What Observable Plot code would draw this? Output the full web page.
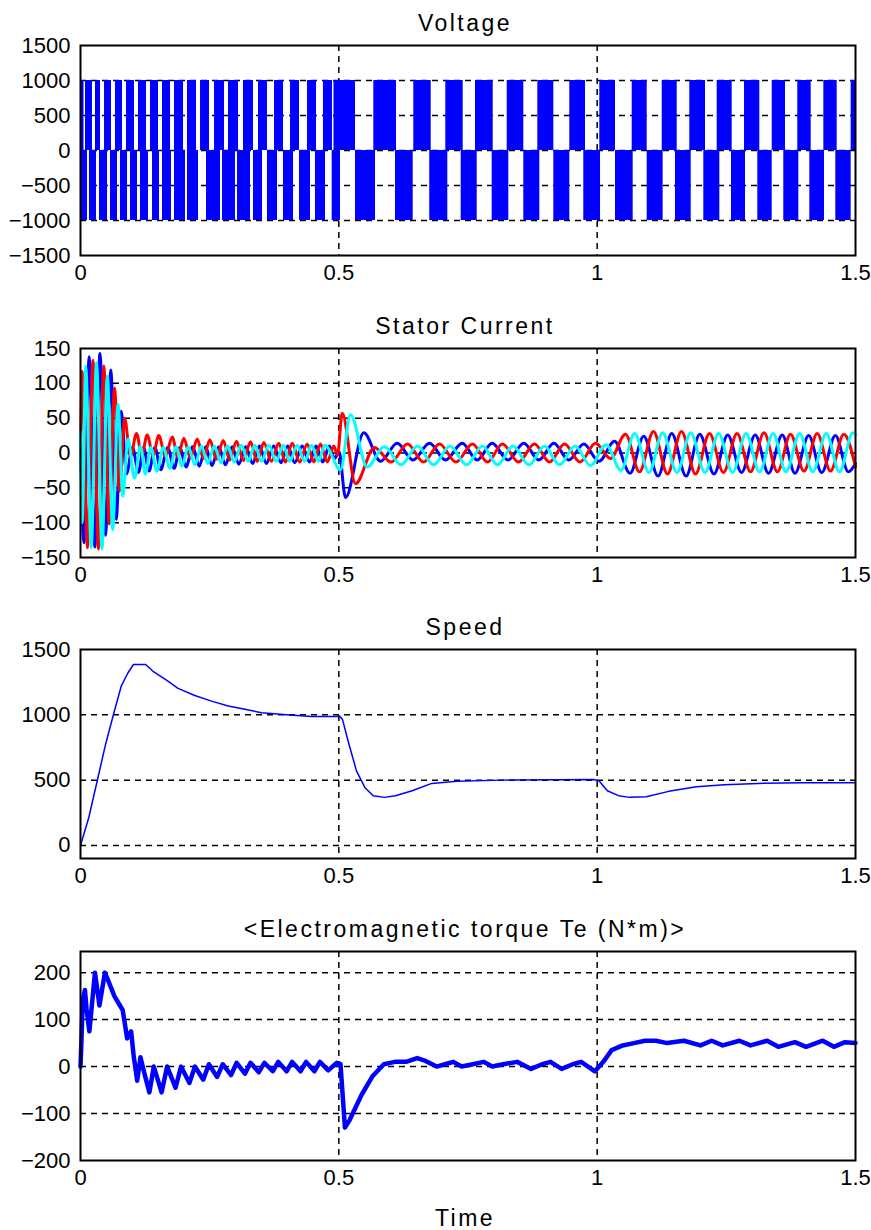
<!DOCTYPE html>
<html><head><meta charset="utf-8">
<script src="https://cdn.jsdelivr.net/npm/d3@7"></script>
<script src="https://cdn.jsdelivr.net/npm/@observablehq/plot@0.6"></script>
<style>
html,body{margin:0;padding:0;background:#fff;}
#chart{width:871px;}
#chart svg{display:block;}
</style></head><body><div id="chart"></div>
<script>
// ---------- shared axis data ----------
const xTicks = [0, 0.5, 1, 1.5];
const xGrid = [0.5, 1];
const titles = ["Voltage", "Stator Current", "Speed", "<Electromagnetic torque Te (N*m)>"];
const xAxisTitle = "Time";

// ---------- Voltage (pulse edges, s) ----------
const voltLevel = 1000;
const posStart = [0, 0.0097, 0.029, 0.0465, 0.0677, 0.089, 0.1123, 0.1355, 0.1587, 0.1819, 0.2071, 0.2323, 0.2594, 0.2865, 0.3155, 0.3445, 0.3755, 0.4065, 0.4394, 0.4703, 0.4906, 0.5677, 0.6451, 0.707, 0.7645, 0.8259, 0.8851, 0.947, 1.0051, 1.0678, 1.1259, 1.1793, 1.2323, 1.2852, 1.3388, 1.3883, 1.4387, 1.4916];
const posEnd   = [0.0068, 0.0232, 0.0387, 0.06, 0.0813, 0.1045, 0.1277, 0.151, 0.1742, 0.1994, 0.2245, 0.2497, 0.2787, 0.3058, 0.3348, 0.3619, 0.3929, 0.4239, 0.4568, 0.4877, 0.5323, 0.6116, 0.6788, 0.7407, 0.7988, 0.858, 0.9161, 0.9774, 1.0355, 1.0968, 1.1549, 1.2097, 1.2613, 1.3148, 1.3645, 1.4142, 1.4645, 1.5];
const negStart = [0, 0.0174, 0.0368, 0.0581, 0.0774, 0.0968, 0.1161, 0.1394, 0.1587, 0.1819, 0.2071, 0.2439, 0.2748, 0.3039, 0.3348, 0.3619, 0.3929, 0.4239, 0.4548, 0.4871, 0.5323, 0.6097, 0.676, 0.7368, 0.7968, 0.858, 0.9161, 0.9741, 1.0355, 1.0968, 1.1516, 1.2064, 1.26, 1.3109, 1.3612, 1.4116, 1.4619];
const negEnd   = [0.0135, 0.031, 0.0523, 0.0716, 0.091, 0.1103, 0.1316, 0.1529, 0.1761, 0.2032, 0.2284, 0.271, 0.3, 0.329, 0.3523, 0.3813, 0.4123, 0.4452, 0.4742, 0.5032, 0.571, 0.6439, 0.7109, 0.7678, 0.829, 0.889, 0.947, 1.0065, 1.0697, 1.1277, 1.182, 1.2374, 1.2871, 1.3388, 1.3903, 1.44, 1.4916];

// ---------- Stator current (extrema, s / A) ----------
const redT = [0, 0.0033, 0.0135, 0.0242, 0.0348, 0.0451, 0.0555, 0.0658, 0.0755, 0.0852, 0.0968, 0.1084, 0.1186, 0.1291, 0.1403, 0.1515, 0.1645, 0.1775, 0.1887, 0.1999, 0.2129, 0.2259, 0.2381, 0.2503, 0.2632, 0.2762, 0.2890, 0.3019, 0.3155, 0.3290, 0.3420, 0.3548, 0.3693, 0.3838, 0.3968, 0.4097, 0.4243, 0.4388, 0.4516, 0.4645, 0.4775, 0.4903, 0.4974, 0.5065, 0.5323, 0.5690, 0.6010, 0.6329, 0.6639, 0.6948, 0.7268, 0.7587, 0.7877, 0.8168, 0.8477, 0.8787, 0.9077, 0.9368, 0.9668, 0.9968, 1.0258, 1.0548, 1.0819, 1.1090, 1.1361, 1.1632, 1.1903, 1.2174, 1.2445, 1.2707, 1.2968, 1.3229, 1.3490, 1.3742, 1.4003, 1.4259, 1.4516, 1.4774, 1.5];
const redV = [0, 117, -136, 133, -138, 125, -102, 93, -55, 50, -5, 28, -3, 26, -4, 25, -5, 23, -6, 21, -7, 20, -8, 19, -9, 18, -10, 17, -11, 16, -12, 15, -12, 14, -13, 14, -13, 13, -13, 13, -13, 10, -3, 57, -44, 8, -13, 13, -13, 13, -13, 13, -13, 13, -13, 13, -13, 13, -13, 14, -8, 27, -27, 31, -30, 31, -30, 28, -28, 28, -27, 29, -27, 27, -26, 28, -26, 27, -20];
const blueT = [0, 0.0068, 0.0168, 0.0277, 0.0377, 0.0484, 0.0586, 0.0691, 0.0788, 0.0890, 0.1006, 0.1123, 0.1221, 0.1326, 0.1440, 0.1552, 0.1688, 0.1812, 0.1924, 0.2042, 0.2172, 0.2299, 0.2421, 0.2545, 0.2675, 0.2805, 0.2934, 0.3064, 0.3199, 0.3333, 0.3463, 0.3596, 0.3741, 0.3881, 0.4010, 0.4146, 0.4291, 0.4432, 0.4560, 0.4688, 0.4817, 0.4916, 0.5003, 0.5129, 0.5483, 0.5807, 0.6130, 0.6436, 0.6755, 0.7065, 0.7388, 0.7678, 0.7968, 0.8274, 0.8580, 0.8871, 0.9161, 0.9451, 0.9741, 1.0036, 1.0336, 1.0636, 1.0901, 1.1178, 1.1443, 1.1720, 1.1985, 1.2261, 1.2527, 1.2794, 1.3059, 1.3316, 1.3581, 1.3829, 1.4094, 1.4346, 1.4611, 1.4861, 1.5];
const blueV = [20, -129, 138, -135, 143, -118, 119, -95, 60, -30, 8, -28, 8, -26, 8, -24, 8, -22, 8, -20, 9, -19, 9, -18, 9, -17, 9, -16, 9, -15, 10, -15, 10, -14, 10, -14, 10, -13, 10, -13, 10, -8, 2, -64, 29, -12, 14, -10, 14, -10, 14, -10, 14, -10, 14, -10, 14, -10, 13, -12, 17, -29, 24, -33, 28, -33, 27, -30, 26, -28, 26, -29, 26, -29, 25, -28, 25, -27, -15];
const cyanT = [0, 0.0033, 0.0101, 0.0207, 0.0310, 0.0416, 0.0519, 0.0623, 0.0726, 0.0819, 0.0919, 0.1045, 0.1161, 0.1256, 0.1361, 0.1479, 0.1603, 0.1732, 0.1850, 0.1963, 0.2086, 0.2216, 0.2340, 0.2462, 0.2590, 0.2719, 0.2847, 0.2977, 0.3110, 0.3246, 0.3376, 0.3505, 0.3645, 0.3790, 0.3925, 0.4049, 0.4194, 0.4339, 0.4473, 0.4603, 0.4730, 0.5032, 0.5226, 0.5549, 0.5884, 0.6203, 0.6523, 0.6832, 0.7152, 0.7471, 0.7781, 0.8071, 0.8371, 0.8681, 0.8981, 0.9271, 0.9571, 0.9871, 1.0171, 1.0461, 1.0725, 1.1003, 1.1267, 1.1545, 1.1809, 1.2087, 1.2350, 1.2619, 1.2883, 1.3142, 1.3405, 1.3655, 1.3918, 1.4172, 1.4435, 1.4687, 1.4950, 1.5];
const cyanV = [30, -100, 124, -136, 130, -138, 110, -110, 70, -62, 20, -36, 10, -30, 8, -26, 8, -22, 9, -19, 9, -17, 10, -15, 10, -14, 10, -13, 11, -12, 11, -12, 11, -12, 11, -12, 11, -12, 11, -12, 11, -24, 55, -20, 9, -17, 10, -17, 10, -17, 10, -17, 10, -17, 10, -17, 10, -18, 12, -25, 28, -28, 29, -28, 29, -28, 28, -28, 28, -27, 28, -27, 28, -27, 28, -27, 29, 26];

// ---------- Speed (s / rpm) ----------
const speedT = [0, 0.0162, 0.0324, 0.0486, 0.0647, 0.0788, 0.0917, 0.1025, 0.1262, 0.1403, 0.1672, 0.1888, 0.2212, 0.2536, 0.2859, 0.3183, 0.3507, 0.4046, 0.4478, 0.5017, 0.5071, 0.5179, 0.5341, 0.5503, 0.5665, 0.5881, 0.6096, 0.6420, 0.6798, 0.7283, 0.8146, 0.9225, 0.9927, 1.0035, 1.0197, 1.0412, 1.0628, 1.0952, 1.1384, 1.1923, 1.2462, 1.3110, 1.3973, 1.5];
const speedV = [0, 216, 495, 775, 1016, 1219, 1320, 1385, 1385, 1333, 1263, 1202, 1148, 1105, 1067, 1042, 1016, 998, 988, 988, 965, 800, 571, 444, 381, 368, 381, 419, 475, 492, 500, 502, 505, 495, 419, 381, 368, 373, 414, 450, 465, 475, 480, 480];

// ---------- Torque (s / N*m) ----------
const torqueT = [0, 0.002, 0.0043, 0.0086, 0.0118, 0.0172, 0.0280, 0.0366, 0.0473, 0.0548, 0.0656, 0.0763, 0.0817, 0.0903, 0.0979, 0.1032, 0.1097, 0.1161, 0.1226, 0.1333, 0.1419, 0.1570, 0.1677, 0.1839, 0.1946, 0.2108, 0.2215, 0.2376, 0.2484, 0.2645, 0.2753, 0.2914, 0.3022, 0.3183, 0.3290, 0.3452, 0.3559, 0.3721, 0.3828, 0.3989, 0.4097, 0.4258, 0.4366, 0.4527, 0.4634, 0.4796, 0.4957, 0.5032, 0.5118, 0.5204, 0.5441, 0.5656, 0.5871, 0.6086, 0.6301, 0.6516, 0.6678, 0.6893, 0.7054, 0.7215, 0.7377, 0.7592, 0.7807, 0.7968, 0.8183, 0.8452, 0.8721, 0.8936, 0.9097, 0.9312, 0.9527, 0.9689, 0.9957, 1.0119, 1.0280, 1.0495, 1.0710, 1.0925, 1.1140, 1.1355, 1.1678, 1.2000, 1.2215, 1.2430, 1.2753, 1.2968, 1.3290, 1.3506, 1.3828, 1.4043, 1.4366, 1.4581, 1.4796, 1.5];
const torqueV = [0, 60, 142, 163, 121, 75, 200, 130, 200, 180, 150, 130, 120, 60, 75, 20, -30, 20, -10, -55, 0, -55, 0, -45, 0, -35, 0, -28, 5, -22, 5, -18, 8, -15, 8, -12, 8, -10, 10, -10, 10, -10, 10, -10, 10, -8, 8, 5, -130, -115, -60, -20, 5, 10, 10, 18, 12, 0, 5, 10, 0, 5, 10, 0, 5, 10, -5, 5, 10, -5, 5, 10, -10, 10, 35, 45, 50, 55, 55, 50, 55, 45, 55, 45, 55, 45, 55, 42, 52, 42, 55, 42, 52, 50];

// ---------- build ----------
const rows = (ts, vs) => ts.map((t, i) => ({t, v: vs[i]}));
const pulses = (s, e) => s.map((a, i) => ({s: a, e: e[i]}));
const FONT = "'Liberation Sans', Arial, Helvetica, sans-serif";
const gridStyle = {stroke: "black", strokeWidth: 1.5, strokeDasharray: "6,5", strokeOpacity: 1};
const yFmt = d3.format("d");
const spaced = new Set([...titles, xAxisTitle]);

function panel({title, yDomain, yTicks, height, mt, mb, marks, extra = []}) {
  const inner = yTicks.filter(v => v > yDomain[0] && v < yDomain[1]);
  const svg = Plot.plot({
    width: 871, height,
    marginLeft: 80, marginRight: 16, marginTop: mt, marginBottom: mb,
    style: {fontFamily: FONT, fontSize: "22px", background: "white", color: "black", overflow: "visible"},
    x: {domain: [0, 1.5], ticks: xTicks, tickSize: 0, tickPadding: 9, label: null, tickFormat: d => String(d)},
    y: {domain: yDomain, ticks: yTicks, tickSize: 0, tickPadding: 10, label: null, tickFormat: yFmt},
    marks: [
      Plot.ruleY(inner, gridStyle),
      Plot.ruleX(xGrid, gridStyle),
      ...marks,
      Plot.frame({stroke: "black", strokeWidth: 2}),
      Plot.text([title], {text: d => d, frameAnchor: "top", lineAnchor: "middle", dy: -22, dx: -3, fontSize: 23, fill: "black"}),
      ...extra
    ]
  });
  d3.select(svg).selectAll("text").filter(function() { return spaced.has(this.textContent); })
    .style("letter-spacing", "2.5px");
  return svg;
}

const chart = document.getElementById("chart");

chart.appendChild(panel({
  title: titles[0], yDomain: [-1500, 1500], yTicks: [-1500, -1000, -500, 0, 500, 1000, 1500],
  height: 300, mt: 45, mb: 45,
  marks: [
    Plot.rect(pulses(posStart, posEnd), {x1: "s", x2: "e", y1: 0, y2: voltLevel, fill: "#0000ff"}),
    Plot.rect(pulses(negStart, negEnd), {x1: "s", x2: "e", y1: 0, y2: -voltLevel, fill: "#0000ff"})
  ]
}));

chart.appendChild(panel({
  title: titles[1], yDomain: [-150, 150], yTicks: [-150, -100, -50, 0, 50, 100, 150],
  height: 300, mt: 48, mb: 43,
  marks: [
    Plot.line(rows(blueT, blueV), {x: "t", y: "v", stroke: "#0000ff", strokeWidth: 3, curve: "monotone-x"}),
    Plot.line(rows(redT, redV), {x: "t", y: "v", stroke: "#ff0000", strokeWidth: 3, curve: "monotone-x"}),
    Plot.line(rows(cyanT, cyanV), {x: "t", y: "v", stroke: "#00ffff", strokeWidth: 3, curve: "monotone-x"})
  ]
}));

chart.appendChild(panel({
  title: titles[2], yDomain: [-100, 1500], yTicks: [0, 500, 1000, 1500],
  height: 300, mt: 49, mb: 42,
  marks: [
    Plot.line(rows(speedT, speedV), {x: "t", y: "v", stroke: "#0000ff", strokeWidth: 1.5})
  ]
}));

chart.appendChild(panel({
  title: titles[3], yDomain: [-200, 245], yTicks: [-200, -100, 0, 100, 200],
  height: 330, mt: 51, mb: 70,
  marks: [
    Plot.line(rows(torqueT, torqueV), {x: "t", y: "v", stroke: "#0000ff", strokeWidth: 4.5})
  ],
  extra: [
    Plot.text([xAxisTitle], {text: d => d, frameAnchor: "bottom", lineAnchor: "middle", dy: 58, dx: -3, fontSize: 23, fill: "black"})
  ]
}));
</script>
</body></html>
